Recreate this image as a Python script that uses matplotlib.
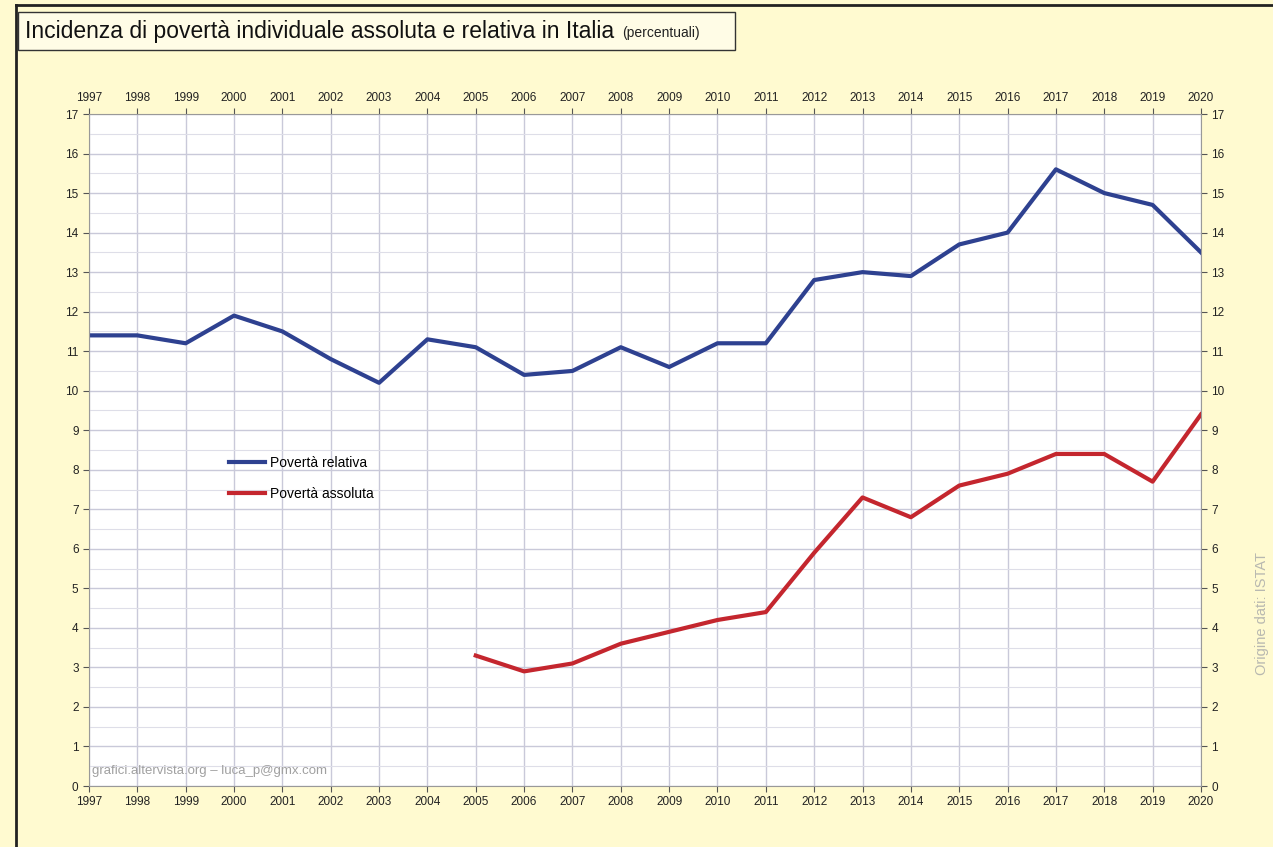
import numpy as np
import matplotlib.pyplot as plt
from matplotlib.ticker import MultipleLocator

# dati ISTAT (percentuali)
anni = list(range(1997, 2021))
relativa = [11.4, 11.4, 11.2, 11.9, 11.5, 10.8, 10.2, 11.3, 11.1, 10.4, 10.5, 11.1,
            10.6, 11.2, 11.2, 12.8, 13.0, 12.9, 13.7, 14.0, 15.6, 15.0, 14.7, 13.5]
anni_ass = list(range(2005, 2021))
assoluta = [3.3, 2.9, 3.1, 3.6, 3.9, 4.2, 4.4, 5.9, 7.3, 6.8, 7.6, 7.9, 8.4, 8.4, 7.7, 9.4]

plt.rcParams['font.family'] = ['Liberation Sans', 'DejaVu Sans']

fig = plt.figure(figsize=(12.73, 8.47), dpi=100)
fig.patch.set_facecolor('#fffad0')
ax = fig.add_axes([0.0699, 0.072, 0.8735, 0.7934])
ax.set_facecolor('white')

ax.plot(anni, relativa, color='#2e4190', lw=3, label='Povertà relativa', solid_joinstyle='round')
ax.plot(anni_ass, assoluta, color='#c4262e', lw=3, label='Povertà assoluta', solid_joinstyle='round')

ax.set_xlim(1997, 2020)
ax.set_ylim(0, 17)
ax.set_xticks(anni)
ax.yaxis.set_major_locator(MultipleLocator(1))
ax.yaxis.set_minor_locator(MultipleLocator(0.5))
ax.grid(which='major', color='#c9c9d9', lw=1)
ax.grid(which='minor', axis='y', color='#dedee8', lw=0.8)
ax.set_axisbelow(True)
ax.tick_params(which='both', labelsize=8.5, colors='#555555', labelcolor='#222222',
               top=True, labeltop=True, right=True, labelright=True, length=4, direction='out')
ax.tick_params(which='minor', length=0)
for s in ax.spines.values():
    s.set_color('#999999')

leg = ax.legend(loc='upper left', bbox_to_anchor=(0.115, 0.51), frameon=False,
                fontsize=10, handlelength=2.6, labelspacing=1.25, handletextpad=0.3)

ax.text(0.003, 0.018, 'grafici.altervista.org – luca_p@gmx.com', transform=ax.transAxes,
        fontsize=9.5, color='#a0a0a0')
fig.text(0.9915, 0.203, 'Origine dati: ISTAT', rotation=90, fontsize=10.5, color='#b8b8b0',
         ha='center', va='bottom')

# titolo in riquadro
fig.patches.append(plt.Rectangle((0.0145, 0.941), 0.563, 0.045, transform=fig.transFigure,
                                 facecolor='#fffce6', edgecolor='#333333', lw=1))
fig.text(0.0195, 0.963, 'Incidenza di povertà individuale assoluta e relativa in Italia',
         fontsize=16.5, va='center', color='#111111')
fig.text(0.489, 0.961, '(percentuali)', fontsize=10, va='center', color='#222222')

# bordo esterno
fig.add_artist(plt.Line2D([0.0125, 0.0125], [0, 0.994], color='#222222', lw=2, transform=fig.transFigure))
fig.add_artist(plt.Line2D([0.0125, 1], [0.994, 0.994], color='#222222', lw=2, transform=fig.transFigure))

fig.savefig('out.png', dpi=100, facecolor=fig.get_facecolor())
